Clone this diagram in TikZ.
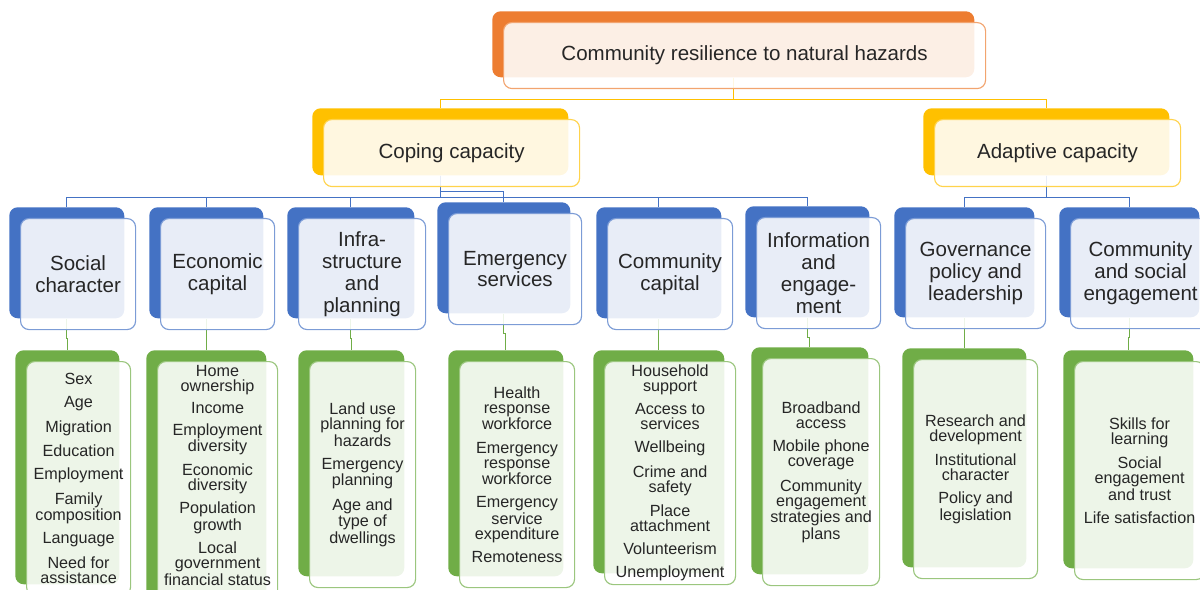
\documentclass[tikz,border=0pt]{standalone}
\usepackage{fontspec}
\setmainfont{Liberation Sans}
\usetikzlibrary{calc,backgrounds}
\definecolor{resorange}{RGB}{237,125,49}
\definecolor{resyellow}{RGB}{255,192,0}
\definecolor{resblue}{RGB}{68,114,196}
\definecolor{resgreen}{RGB}{112,173,71}
\newcommand{\pxu}{0.025cm}
\newcommand{\itemgap}{\\[5.7pt]}
% dark back panel and pale front panel: name, colour, x, y, width, height
\newcommand{\tierbox}[6]{%
  \node[backbox=#2,minimum width=#5*\pxu,minimum height=#6*\pxu] (#1-b) at (#3,#4) {};
  \node[frontbox=#2,minimum width=#5*\pxu,minimum height=#6*\pxu] (#1) at ($(#1-b.north west)+(11,11)$) {};}
\begin{document}
\begin{tikzpicture}[x=0.025cm,y=-0.025cm,
    backbox/.style={anchor=north west,fill=#1,rounded corners=6pt,inner sep=0pt},
    frontbox/.style={anchor=north west,draw=#1!70,line width=0.8pt,fill=white,fill opacity=0.88,rounded corners=6pt,inner sep=0pt},
    headtext/.style={font=\fontsize{14.6}{15.6}\selectfont,align=center,text=black!85},
    itemtext/.style={font=\fontsize{11.5}{10.7}\selectfont,align=center,text=black!85},
    link/.style={draw=#1,line width=0.7pt}]
  \useasboundingbox (0,0) rectangle (1200,590);
  \clip (0,0) rectangle (1200,590);
  % top and second tier
  \tierbox{top}{resorange}{492}{11}{482}{66}
  \tierbox{cope}{resyellow}{312}{108}{256}{67}
  \tierbox{adapt}{resyellow}{923}{108}{246}{67}
  % domains
  \tierbox{soc}{resblue}{9}{207}{115}{111}
  \tierbox{econ}{resblue}{149}{207}{114}{111}
  \tierbox{infra}{resblue}{287}{207}{127}{111}
  \tierbox{emerg}{resblue}{437}{202}{133}{111}
  \tierbox{comm}{resblue}{596}{207}{125}{111}
  \tierbox{info}{resblue}{745}{206}{124}{111}
  \tierbox{gov}{resblue}{894}{207}{140}{110}
  \tierbox{csoc}{resblue}{1059}{207}{140}{110}
  % indicator lists
  \tierbox{soc-l}{resgreen}{15}{350}{104}{234}
  \tierbox{econ-l}{resgreen}{146}{350}{120}{250}
  \tierbox{infra-l}{resgreen}{298}{350}{106}{226}
  \tierbox{emerg-l}{resgreen}{448}{350}{115}{226}
  \tierbox{comm-l}{resgreen}{593}{350}{131}{223}
  \tierbox{info-l}{resgreen}{751}{347}{117}{227}
  \tierbox{gov-l}{resgreen}{902}{348}{124}{219}
  \tierbox{csoc-l}{resgreen}{1063}{350}{130}{218}
  % labels
  \node[headtext] (top-t) at (top) {Community resilience to natural hazards};
  \node[headtext] (cope-t) at (cope) {Coping capacity};
  \node[headtext] (adapt-t) at (adapt) {Adaptive capacity};
  \node[headtext] (soc-t) at (soc) {Social\\character};
  \node[headtext] (econ-t) at (econ) {Economic\\capital};
  \node[headtext] (infra-t) at (infra) {Infra-\\structure\\and\\planning};
  \node[headtext] (emerg-t) at (emerg) {Emergency\\services};
  \node[headtext] (comm-t) at (comm) {Community\\capital};
  \node[headtext] (info-t) at (info) {Information\\and\\engage-\\ment};
  \node[headtext] (gov-t) at (gov) {Governance\\policy and\\leadership};
  \node[headtext] (csoc-t) at (csoc) {Community\\and social\\engagement};
  \node[itemtext] (soc-lt) at (soc-l) {Sex\itemgap Age\itemgap Migration\itemgap Education\itemgap Employment\itemgap Family\\composition\itemgap Language\itemgap Need for\\assistance};
  \node[itemtext,anchor=north] (econ-lt) at ($(econ-l.north)+(0,-1)$) {Home\\ownership\\[5pt] Income\\[5pt] Employment\\diversity\\[5pt] Economic\\diversity\\[5pt] Population\\growth\\[5pt] Local\\government\\financial status};
  \node[itemtext] (infra-lt) at (infra-l) {Land use\\planning for\\hazards\itemgap Emergency\\planning\itemgap Age and\\type of\\dwellings};
  \node[itemtext] (emerg-lt) at (emerg-l) {Health\\response\\workforce\itemgap Emergency\\response\\workforce\itemgap Emergency\\service\\expenditure\itemgap Remoteness};
  \node[itemtext] (comm-lt) at (comm-l) {Household\\support\itemgap Access to\\services\itemgap Wellbeing\itemgap Crime and\\safety\itemgap Place\\attachment\itemgap Volunteerism\itemgap Unemployment};
  \node[itemtext] (info-lt) at (info-l) {Broadband\\access\itemgap Mobile phone\\coverage\itemgap Community\\engagement\\strategies and\\plans};
  \node[itemtext] (gov-lt) at (gov-l) {Research and\\development\itemgap Institutional\\character\itemgap Policy and\\legislation};
  \node[itemtext] (csoc-lt) at (csoc-l) {Skills for\\learning\itemgap Social\\engagement\\and trust\itemgap Life satisfaction};
  % connectors behind the panels
  \begin{pgfonlayer}{background}
    \draw[link=resyellow] (top-b.south) -- ++(0,22) -| (cope-b.north);
    \draw[link=resyellow] (top-b.south) -- ++(0,22) -| (adapt-b.north);
    \foreach \n in {soc,econ,infra,comm,info}
      \draw[link=resblue] (cope-b.south) -- ++(0,22) -| (\n-b.north);
    \draw[link=resblue] (cope-b.south) -- ++(0,16) -| (emerg-b.north);
    \foreach \n in {gov,csoc}
      \draw[link=resblue] (adapt-b.south) -- ++(0,22) -| (\n-b.north);
    \foreach \n in {soc,econ,infra,emerg,comm,info,gov,csoc}
      \draw[link=resgreen] (\n-b.south) -- ++(0,20) -| (\n-l-b.north);
  \end{pgfonlayer}
\end{tikzpicture}
\end{document}
